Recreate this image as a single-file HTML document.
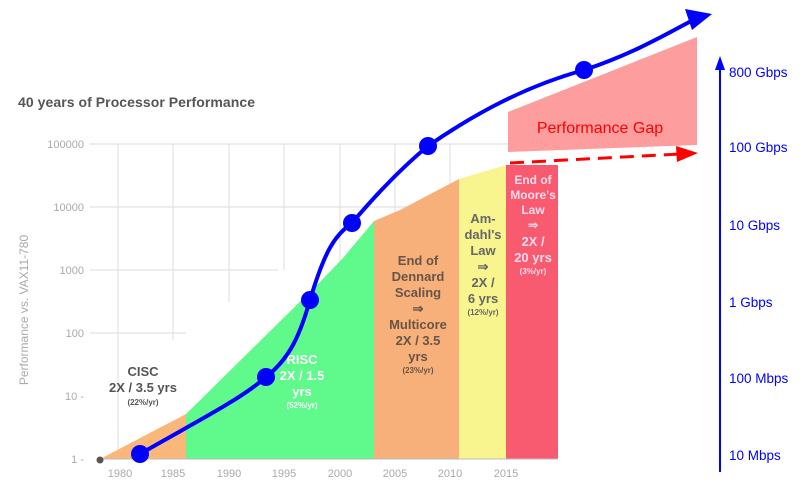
<!DOCTYPE html>
<html><head><style>body{margin:0;background:#fff}svg{display:block}</style></head><body>
<svg width="810" height="491" xmlns="http://www.w3.org/2000/svg" font-family="Liberation Sans, sans-serif">
<rect width="810" height="491" fill="#fff"/>
<text x="18" y="107" font-size="14" font-weight="bold" fill="#555" textLength="237">40 years of Processor Performance</text>
<g stroke="#e2e2e2" stroke-width="1.2">
<line x1="90" y1="144" x2="555" y2="144"/><line x1="90" y1="207" x2="555" y2="207"/>
<line x1="90" y1="270" x2="278" y2="270"/><line x1="90" y1="333" x2="186" y2="333"/>
<line x1="118" y1="144" x2="118" y2="459"/><line x1="173" y1="144" x2="173" y2="340"/>
<line x1="229" y1="144" x2="229" y2="302"/><line x1="284" y1="144" x2="284" y2="270"/>
<line x1="340" y1="144" x2="340" y2="265"/><line x1="395" y1="144" x2="395" y2="225"/>
<line x1="450" y1="144" x2="450" y2="190"/>
</g>
<g font-size="11" fill="#aaa" text-anchor="end">
<text x="84" y="148">100000</text><text x="84" y="211">10000</text><text x="84" y="274">1000</text>
<text x="84" y="337">100</text><text x="84" y="400">10 -</text><text x="84" y="463">1 -</text>
</g>
<g font-size="11" fill="#aaa" text-anchor="middle">
<text x="120" y="477">1980</text><text x="173" y="477">1985</text><text x="229" y="477">1990</text>
<text x="284" y="477">1995</text><text x="340" y="477">2000</text><text x="395" y="477">2005</text>
<text x="450" y="477">2010</text><text x="506" y="477">2015</text>
</g>
<text transform="translate(28,310) rotate(-90)" font-size="12" fill="#aaa" text-anchor="middle">Performance vs. VAX11-780</text>
<polygon points="100,459 186,414 186,459" fill="#f9b87a"/>
<polygon points="186,414 320,282 343,258 374,221 374,459 186,459" fill="#5ff98c"/>
<polygon points="374,221 400,210 459,179 459,459 374,459" fill="#f7b07a"/>
<polygon points="459,179 506,165 506,459 459,459" fill="#f8f58e"/>
<polygon points="506,165 558,165 558,459 506,459" fill="#f85a70"/>
<line x1="100" y1="459" x2="558" y2="459" stroke="#bbb"/>
<circle cx="100" cy="460" r="3.5" fill="#555"/>
<g font-weight="bold" text-anchor="middle" fill="#555">
<text x="143" y="376" font-size="13">CISC</text><text x="143" y="392" font-size="13">2X / 3.5 yrs</text>
<text x="143" y="405" font-size="8">(22%/yr)</text>
</g>
<g font-weight="bold" text-anchor="middle" fill="#fff">
<text x="302" y="364" font-size="13">RISC</text><text x="302" y="380" font-size="13">2X / 1.5</text>
<text x="302" y="396" font-size="13">yrs</text><text x="302" y="408" font-size="8">(52%/yr)</text>
</g>
<g font-weight="bold" text-anchor="middle" fill="#665548" font-size="13">
<text x="418" y="265">End of</text><text x="418" y="281">Dennard</text><text x="418" y="297">Scaling</text>
<text x="418" y="313">⇒</text><text x="418" y="329">Multicore</text><text x="418" y="345">2X / 3.5</text>
<text x="418" y="361">yrs</text><text x="418" y="373" font-size="8">(23%/yr)</text>
</g>
<g font-weight="bold" text-anchor="middle" fill="#666" font-size="13">
<text x="483" y="223">Am-</text><text x="483" y="239">dahl's</text><text x="483" y="255">Law</text>
<text x="483" y="271">⇒</text><text x="483" y="287">2X /</text><text x="483" y="303">6 yrs</text>
<text x="483" y="315" font-size="8">(12%/yr)</text>
</g>
<g font-weight="bold" text-anchor="middle" fill="#fde" font-size="12">
<text x="533" y="184">End of</text><text x="533" y="199">Moore's</text><text x="533" y="214">Law</text>
<text x="533" y="229">⇒</text><text x="533" y="246" font-size="13">2X /</text><text x="533" y="262" font-size="13">20 yrs</text>
<text x="533" y="274" font-size="8">(3%/yr)</text>
</g>
<polygon points="508,112 697,37 697,145 508,152" fill="#fd9d9d"/>
<text x="600" y="133" font-size="16" fill="#f00" text-anchor="middle">Performance Gap</text>
<line x1="510" y1="163" x2="680" y2="154" stroke="#f00" stroke-width="3" stroke-dasharray="14,8"/>
<polygon points="676,146 698,153 677,162" fill="#f00"/>
<path d="M140,454 C190,425 240,400 266,377 C290,358 300,335 310,300 C325,250 335,235 352,223 C380,190 405,165 428,146 C480,110 530,85 584,70 C630,55 665,35 693,20" fill="none" stroke="#00f" stroke-width="4"/>
<polygon points="685,9 712,14 692,30" fill="#00f"/>
<g fill="#00f"><circle cx="140" cy="454" r="9"/><circle cx="266" cy="377" r="9"/><circle cx="310" cy="300" r="9"/>
<circle cx="352" cy="223" r="9"/><circle cx="428" cy="146" r="9"/><circle cx="584" cy="70" r="9"/></g>
<line x1="720" y1="472" x2="720" y2="68" stroke="#00f" stroke-width="2"/>
<polygon points="715,70 720,56 725,70" fill="#00f"/>
<g font-size="13.5" fill="#00f">
<text x="729" y="77">800 Gbps</text><text x="729" y="152">100 Gbps</text><text x="729" y="230">10 Gbps</text>
<text x="729" y="307">1 Gbps</text><text x="729" y="383">100 Mbps</text><text x="729" y="460">10 Mbps</text>
</g>
</svg>
</body></html>
